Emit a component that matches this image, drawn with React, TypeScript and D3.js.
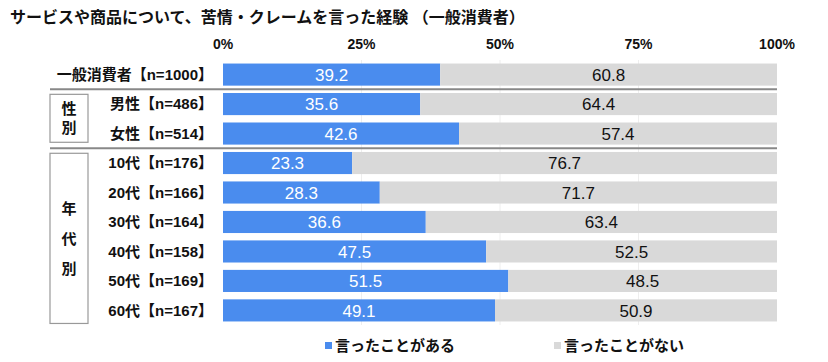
import React from 'react';
import * as d3 from 'd3';

const categories = ['一般消費者【n=1000】', '男性【n=486】', '女性【n=514】', '10代【n=176】', '20代【n=166】', '30代【n=164】', '40代【n=158】', '50代【n=169】', '60代【n=167】'];
const saidValues = [39.2, 35.6, 42.6, 23.3, 28.3, 36.6, 47.5, 51.5, 49.1];
const notSaidValues = [60.8, 64.4, 57.4, 76.7, 71.7, 63.4, 52.5, 48.5, 50.9];
const tickValues = [0, 25, 50, 75, 100];
const seriesNames = ['言ったことがある', '言ったことがない'];
const groupLabels = ['性別', '年代別'];

const W = 828;
const H = 362;
const BLUE = '#4a8cee';
const GREY = '#d9d9d9';
const FONT = '"Liberation Sans", "Noto Sans CJK JP", sans-serif';

const App = () => {
  const x = d3.scaleLinear().domain([0, 100]).range([223, 777]);
  const y = d3.scaleBand<string>().domain(categories).range([60, 325]).paddingInner(0.25).paddingOuter(0.12);
  const bw = y.bandwidth();
  const mid = (c: string) => (y(c) as number) + bw / 2;

  // separators between groups
  const sep1 = (mid(categories[0]) + mid(categories[1])) / 2;
  const sep2 = (mid(categories[2]) + mid(categories[3])) / 2;

  const boxes = [
    { label: groupLabels[0], top: sep1 + 5, bottom: sep2 - 6 },
    { label: groupLabels[1], top: sep2 + 5, bottom: (y(categories[8]) as number) + bw + 2 },
  ];

  return (
    <svg width={W} height={H} style={{ position: 'absolute', left: 0, top: 0 }} fontFamily={FONT}>
      <rect width={W} height={H} fill="#fff" />
      <text x={10} y={23} fontSize={16} fontWeight="bold" fill="#111">
        サービスや商品について、苦情・クレームを言った経験 （一般消費者）
      </text>

      {tickValues.map((t) => (
        <g key={t}>
          <text x={x(t)} y={49} fontSize={14} fontWeight="bold" textAnchor="middle" fill="#111">
            {t}%
          </text>
          {t > 0 && t < 100 && (
            <line x1={x(t)} x2={x(t)} y1={60} y2={325} stroke="#eee" strokeWidth={1} />
          )}
        </g>
      ))}

      {categories.map((c, i) => (
        <g key={c}>
          <rect x={x(0)} y={y(c)} width={x(saidValues[i]) - x(0)} height={bw} fill={BLUE} />
          <rect x={x(saidValues[i])} y={y(c)} width={x(saidValues[i] + notSaidValues[i]) - x(saidValues[i])} height={bw} fill={GREY} />
          <text x={(x(0) + x(saidValues[i])) / 2} y={mid(c)} dy="0.36em" textAnchor="middle" fontSize={17} fill="#fff">
            {saidValues[i].toFixed(1)}
          </text>
          <text x={(x(saidValues[i]) + x(100)) / 2} y={mid(c)} dy="0.36em" textAnchor="middle" fontSize={17} fill="#111">
            {notSaidValues[i].toFixed(1)}
          </text>
          <text x={213} y={mid(c)} dy="0.36em" textAnchor="end" fontSize={15} fontWeight="bold" fill="#111">
            {c}
          </text>
        </g>
      ))}

      <line x1={50} x2={777} y1={sep1} y2={sep1} stroke="#888" strokeWidth={2} />
      <line x1={50} x2={777} y1={sep2} y2={sep2} stroke="#888" strokeWidth={2} />

      {boxes.map((b) => {
        const chars = b.label.split('');
        const cy = (b.top + b.bottom) / 2;
        const step = chars.length > 2 ? 30 : 19;
        return (
          <g key={b.label}>
            <rect x={50} y={b.top} width={38} height={b.bottom - b.top} fill="none" stroke="#999" strokeWidth={1.2} />
            {chars.map((ch, k) => (
              <text key={k} x={69} y={cy + (k - (chars.length - 1) / 2) * step} dy="0.36em" textAnchor="middle" fontSize={15} fontWeight="bold" fill="#111">
                {ch}
              </text>
            ))}
          </g>
        );
      })}

      {seriesNames.map((s, i) => {
        const lx = i === 0 ? 325 : 554;
        return (
          <g key={s}>
            <rect x={lx} y={342} width={7} height={7} fill={i === 0 ? BLUE : GREY} />
            <text x={lx + 10} y={346} dy="0.36em" fontSize={15} fontWeight="bold" fill="#111">
              {s}
            </text>
          </g>
        );
      })}
    </svg>
  );
};

export default App;
